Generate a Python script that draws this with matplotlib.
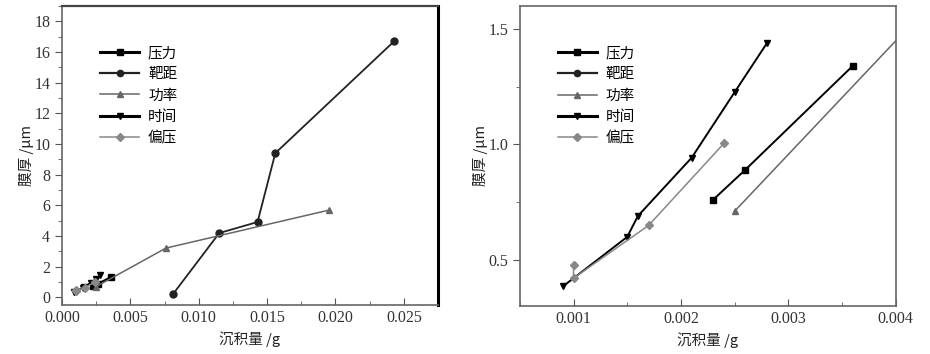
import matplotlib
matplotlib.use("Agg")
import matplotlib.pyplot as plt
from matplotlib.ticker import MultipleLocator
from matplotlib.lines import Line2D

plt.rcParams['font.family'] = ['Noto Sans CJK SC', 'DejaVu Sans']

# ---- data (x: deposition mass / g, y: film thickness / um) ----
pressure_x = [0.0023, 0.0026, 0.0036]
pressure_y = [0.76, 0.89, 1.34]

distance_x = [0.0081, 0.0115, 0.0143, 0.0156, 0.0243]
distance_y = [0.20, 4.20, 4.92, 9.41, 16.71]

power_x = [0.0025, 0.0076, 0.0195]
power_y = [0.71, 3.22, 5.69]

time_x = [0.0009, 0.0015, 0.0016, 0.0021, 0.0025, 0.0028]
time_y = [0.384, 0.599, 0.690, 0.942, 1.226, 1.438]

bias_x = [0.0010, 0.0010, 0.0017, 0.0024]
bias_y = [0.478, 0.420, 0.649, 1.004]

labels = ['压力', '靶距', '功率', '时间', '偏压']

series = [
    (pressure_x, pressure_y, 's', '#000000', 1.4, 2.2),
    (distance_x, distance_y, 'o', '#222222', 1.3, 1.6),
    (power_x, power_y, '^', '#666666', 1.1, 1.1),
    (time_x, time_y, 'v', '#000000', 1.4, 2.2),
    (bias_x, bias_y, 'D', '#888888', 1.1, 1.1),
]

fig = plt.figure(figsize=(9.3, 3.54), dpi=100)
ax1 = fig.add_axes([0.0667, 0.138, 0.4043, 0.845])
ax2 = fig.add_axes([0.559, 0.136, 0.404, 0.847])

for ax in (ax1, ax2):
    for (x, y, m, c, lw, _), lab in zip(series, labels):
        ms = 5 if m != 'D' else 4.2
        ax.plot(x, y, marker=m, color=c, lw=lw, ms=ms, label=lab)
    ax.tick_params(axis='x', direction='in', which='both', length=5, color='#555555')
    ax.tick_params(axis='x', which='minor', length=3)
    ax.tick_params(axis='y', direction='out', which='both', length=5, color='#555555')
    ax.tick_params(axis='y', which='minor', length=3)
    for s in ax.spines.values():
        s.set_color('#666666')
        s.set_linewidth(1.2)
    ax.set_xlabel('沉积量 /g', fontsize=10.5, color='#222222', labelpad=4)
    ax.set_ylabel('膜厚 /μm', fontsize=10.5, color='#222222', labelpad=0)
    handles = []
    for (x, y, m, c, lw, llw), lab in zip(series, labels):
        ms = 4.5 if m != 'D' else 4
        handles.append(Line2D([], [], marker=m, color=c, lw=llw, ms=ms))
    ax.legend(handles, labels, loc='upper left', bbox_to_anchor=(0.085, 0.886),
              frameon=False, fontsize=10.5, handlelength=2.7, handletextpad=0.6,
              labelspacing=0.5, borderaxespad=0)

ax1.spines['right'].set_color('#000000')
ax1.spines['right'].set_linewidth(2.2)
ax1.spines['top'].set_color('#444444')
ax1.spines['top'].set_linewidth(1.6)

ax1.set_xlim(0, 0.0275)
ax1.set_ylim(-0.5, 19)
ax1.xaxis.set_minor_locator(MultipleLocator(0.0025))
ax1.yaxis.set_major_locator(MultipleLocator(2))
ax1.yaxis.set_minor_locator(MultipleLocator(1))
ax1.set_xticks([0, 0.005, 0.01, 0.015, 0.02, 0.025])
ax1.set_xticklabels(['0.000', '0.005', '0.010', '0.015', '0.020', '0.025'])

ax2.set_xlim(0.0005, 0.004)
ax2.set_ylim(0.3, 1.6)
ax2.xaxis.set_minor_locator(MultipleLocator(0.0005))
ax2.yaxis.set_minor_locator(MultipleLocator(0.25))
ax2.set_xticks([0.001, 0.002, 0.003, 0.004])
ax2.set_xticklabels(['0.001', '0.002', '0.003', '0.004'])
ax2.set_yticks([0.5, 1.0, 1.5])
ax2.set_yticklabels(['0.5', '1.0', '1.5'])

for ax in (ax1, ax2):
    for lab in ax.get_xticklabels() + ax.get_yticklabels():
        lab.set_fontfamily('Liberation Serif')
        lab.set_fontsize(11.5)
        lab.set_color('#333333')

fig.savefig('out.png', dpi=100)
